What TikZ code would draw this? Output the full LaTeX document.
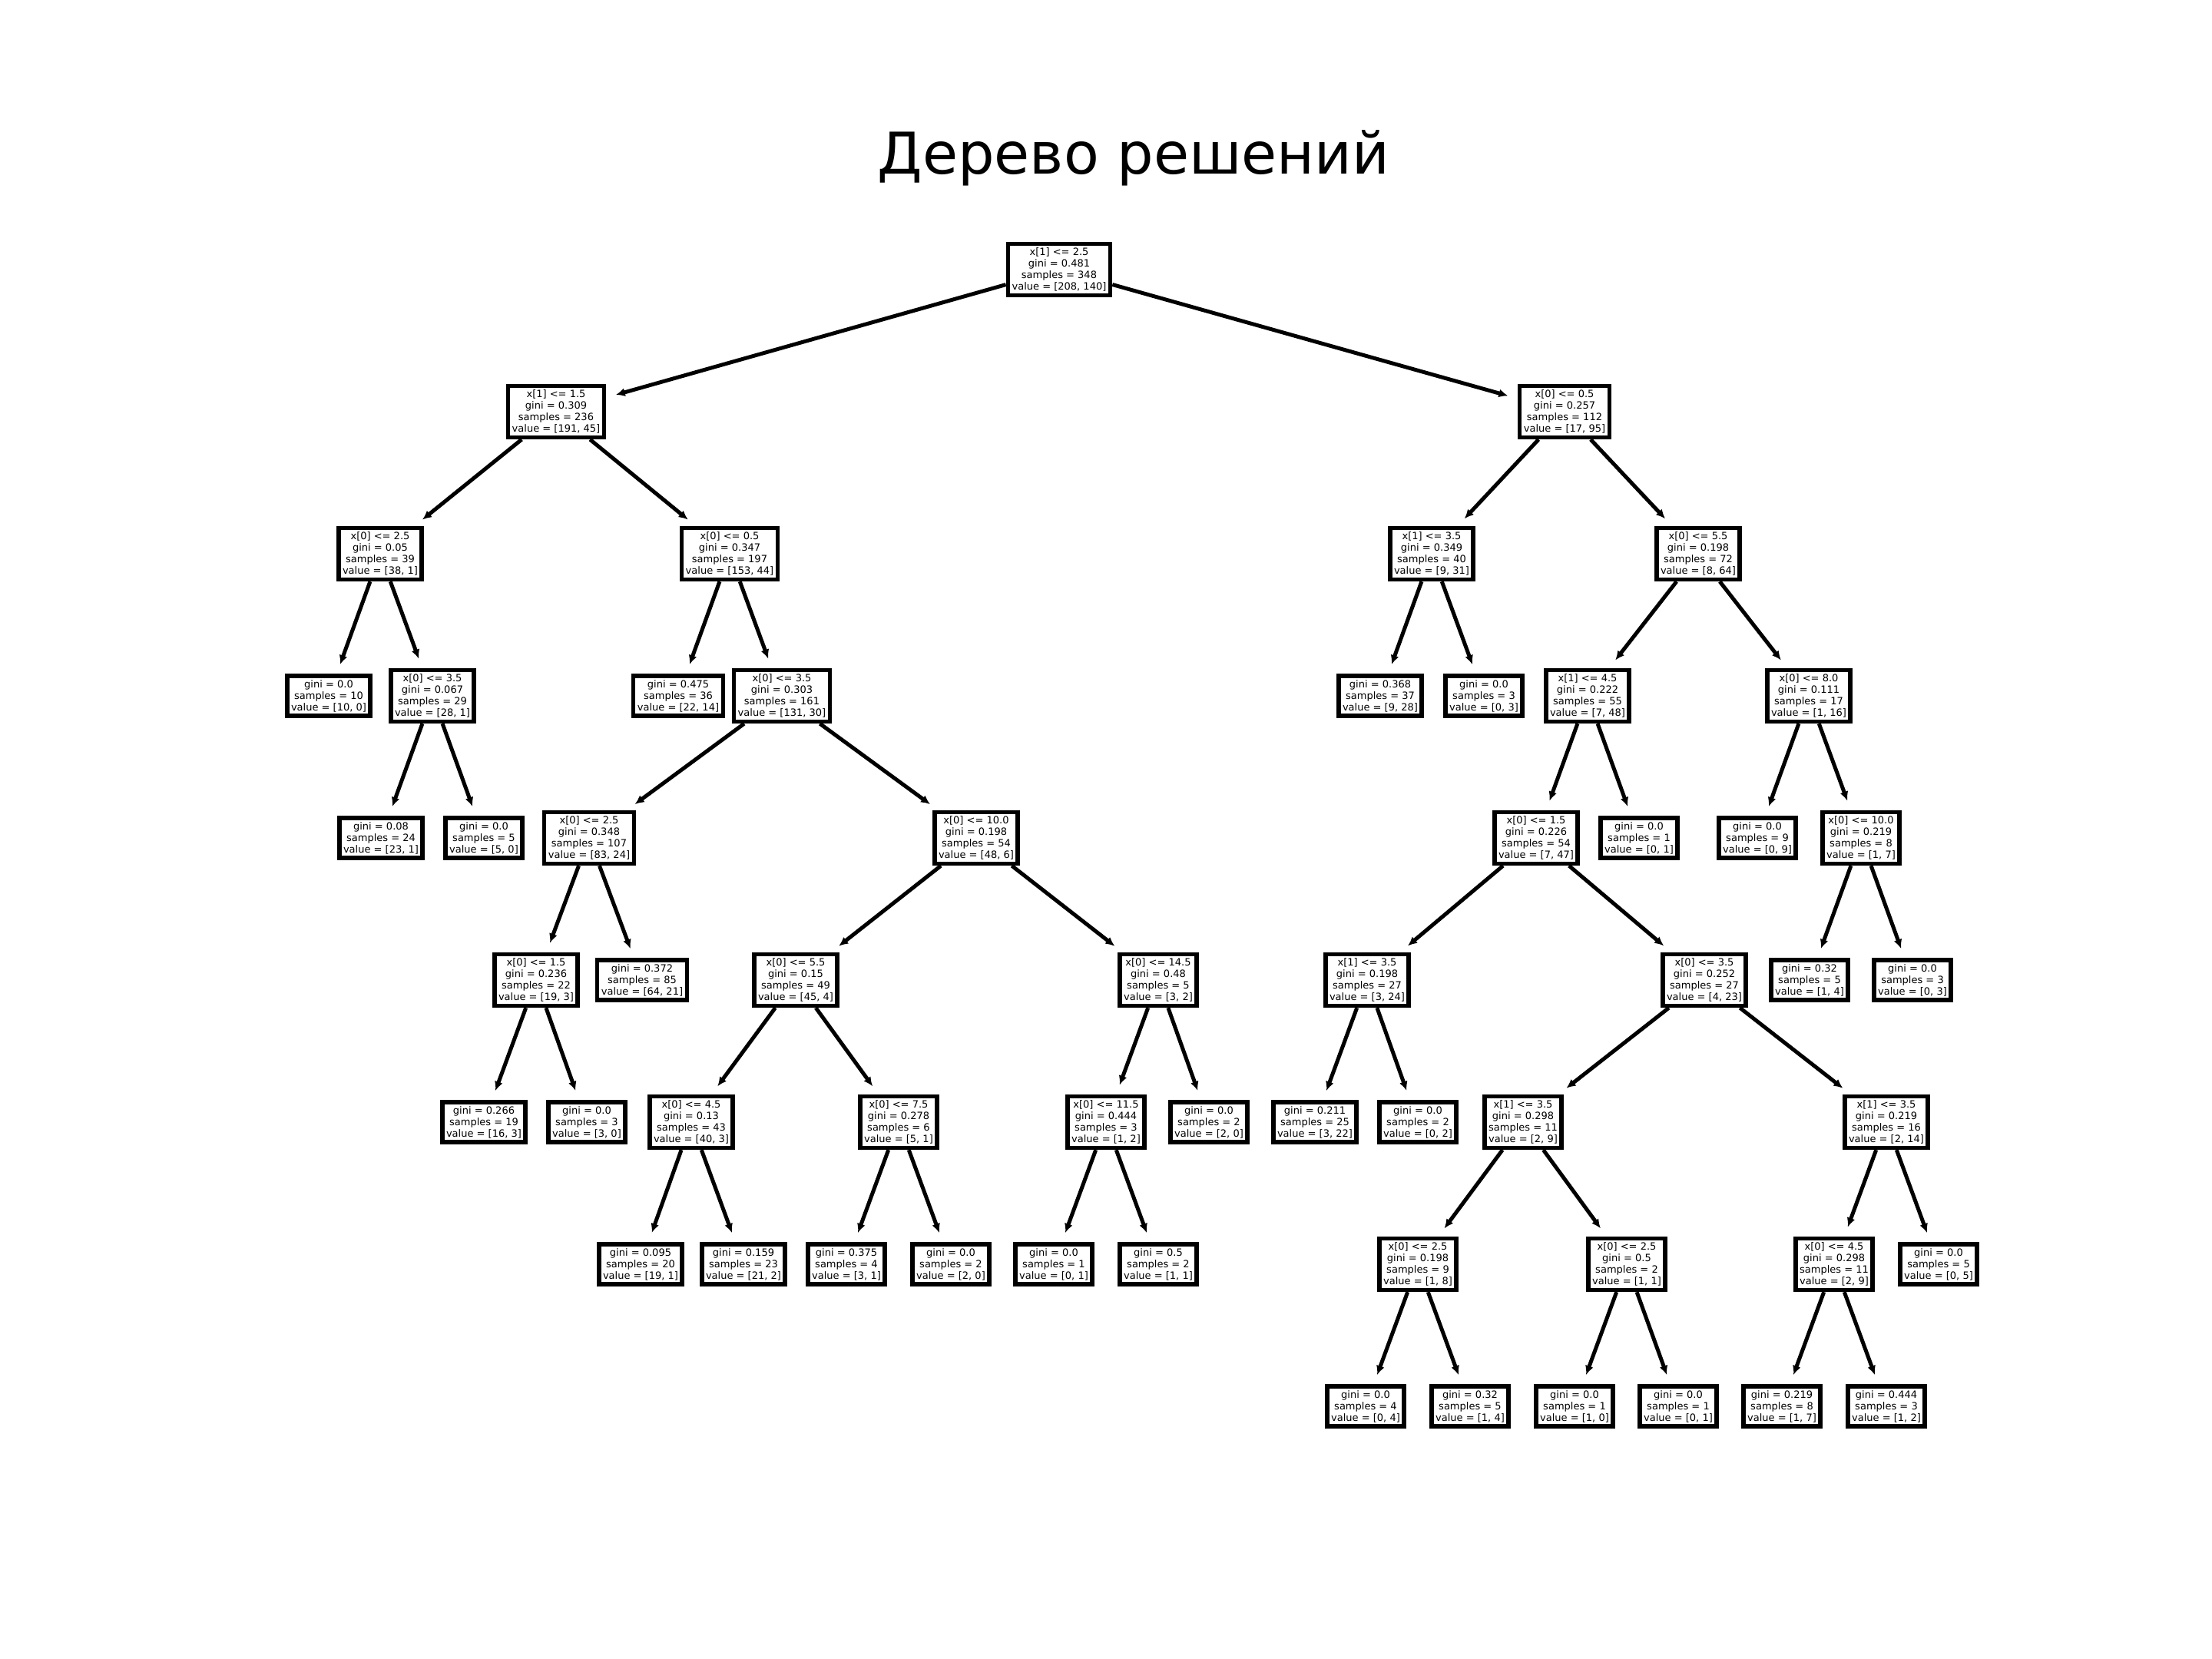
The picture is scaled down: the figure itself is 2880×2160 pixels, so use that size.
\documentclass[tikz,border=0pt]{standalone}
\usepackage{fontspec}
\setmainfont{DejaVu Sans}
\usetikzlibrary{arrows.meta}
\tikzset{
  tnode/.style={draw=black, fill=white, line width=0.055cm, inner sep=0.052cm, align=center,
    font=\fontsize{3.7}{4.25}\selectfont},
  tedge/.style={line width=0.05cm, -{Latex[length=0.12cm,width=0.11cm]}, shorten >=0.13cm},
  ttitle/.style={font=\fontsize{21.3}{26}\selectfont, anchor=base, inner sep=0pt}
}
\begin{document}
\begin{tikzpicture}[x=0.01cm, y=-0.01cm]
\fill[white] (0,0) rectangle (2880,2160);
\useasboundingbox (0,0) rectangle (2880,2160);
\node[ttitle] (title) at (1476,226) {Дерево решений};
% row 1
\node[tnode] (r) at (1379,351) {x[1] <= 2.5\\gini = 0.481\\samples = 348\\value = [208, 140]};
% row 2
\node[tnode] (a) at (724,536) {x[1] <= 1.5\\gini = 0.309\\samples = 236\\value = [191, 45]};
\node[tnode] (b) at (2037,536) {x[0] <= 0.5\\gini = 0.257\\samples = 112\\value = [17, 95]};
% row 3
\node[tnode] (aa) at (495,721) {x[0] <= 2.5\\gini = 0.05\\samples = 39\\value = [38, 1]};
\node[tnode] (ab) at (950,721) {x[0] <= 0.5\\gini = 0.347\\samples = 197\\value = [153, 44]};
\node[tnode] (ba) at (1864,721) {x[1] <= 3.5\\gini = 0.349\\samples = 40\\value = [9, 31]};
\node[tnode] (bb) at (2211,721) {x[0] <= 5.5\\gini = 0.198\\samples = 72\\value = [8, 64]};
% row 4
\node[tnode] (aaa) at (428,906) {gini = 0.0\\samples = 10\\value = [10, 0]};
\node[tnode] (aab) at (563,906) {x[0] <= 3.5\\gini = 0.067\\samples = 29\\value = [28, 1]};
\node[tnode] (aba) at (883,906) {gini = 0.475\\samples = 36\\value = [22, 14]};
\node[tnode] (abb) at (1018,906) {x[0] <= 3.5\\gini = 0.303\\samples = 161\\value = [131, 30]};
\node[tnode] (baa) at (1797,906) {gini = 0.368\\samples = 37\\value = [9, 28]};
\node[tnode] (bab) at (1932,906) {gini = 0.0\\samples = 3\\value = [0, 3]};
\node[tnode] (bba) at (2067,906) {x[1] <= 4.5\\gini = 0.222\\samples = 55\\value = [7, 48]};
\node[tnode] (bbb) at (2355,906) {x[0] <= 8.0\\gini = 0.111\\samples = 17\\value = [1, 16]};
% row 5
\node[tnode] (aaba) at (496,1091) {gini = 0.08\\samples = 24\\value = [23, 1]};
\node[tnode] (aabb) at (630,1091) {gini = 0.0\\samples = 5\\value = [5, 0]};
\node[tnode] (abba) at (767,1091) {x[0] <= 2.5\\gini = 0.348\\samples = 107\\value = [83, 24]};
\node[tnode] (abbb) at (1271,1091) {x[0] <= 10.0\\gini = 0.198\\samples = 54\\value = [48, 6]};
\node[tnode] (bbaa) at (2000,1091) {x[0] <= 1.5\\gini = 0.226\\samples = 54\\value = [7, 47]};
\node[tnode] (bbab) at (2134,1091) {gini = 0.0\\samples = 1\\value = [0, 1]};
\node[tnode] (bbba) at (2288,1091) {gini = 0.0\\samples = 9\\value = [0, 9]};
\node[tnode] (bbbb) at (2423,1091) {x[0] <= 10.0\\gini = 0.219\\samples = 8\\value = [1, 7]};
% row 6
\node[tnode] (abbaa) at (698,1276) {x[0] <= 1.5\\gini = 0.236\\samples = 22\\value = [19, 3]};
\node[tnode] (abbab) at (836,1276) {gini = 0.372\\samples = 85\\value = [64, 21]};
\node[tnode] (abbba) at (1036,1276) {x[0] <= 5.5\\gini = 0.15\\samples = 49\\value = [45, 4]};
\node[tnode] (abbbb) at (1508,1276) {x[0] <= 14.5\\gini = 0.48\\samples = 5\\value = [3, 2]};
\node[tnode] (bbaaa) at (1780,1276) {x[1] <= 3.5\\gini = 0.198\\samples = 27\\value = [3, 24]};
\node[tnode] (bbaab) at (2219,1276) {x[0] <= 3.5\\gini = 0.252\\samples = 27\\value = [4, 23]};
\node[tnode] (bbbba) at (2356,1276) {gini = 0.32\\samples = 5\\value = [1, 4]};
\node[tnode] (bbbbb) at (2490,1276) {gini = 0.0\\samples = 3\\value = [0, 3]};
% row 7
\node[tnode] (abbaaa) at (630,1461) {gini = 0.266\\samples = 19\\value = [16, 3]};
\node[tnode] (abbaab) at (764,1461) {gini = 0.0\\samples = 3\\value = [3, 0]};
\node[tnode] (abbbaa) at (900,1461) {x[0] <= 4.5\\gini = 0.13\\samples = 43\\value = [40, 3]};
\node[tnode] (abbbab) at (1170,1461) {x[0] <= 7.5\\gini = 0.278\\samples = 6\\value = [5, 1]};
\node[tnode] (abbbba) at (1440,1461) {x[0] <= 11.5\\gini = 0.444\\samples = 3\\value = [1, 2]};
\node[tnode] (abbbbb) at (1574,1461) {gini = 0.0\\samples = 2\\value = [2, 0]};
\node[tnode] (bbaaaa) at (1712,1461) {gini = 0.211\\samples = 25\\value = [3, 22]};
\node[tnode] (bbaaab) at (1846,1461) {gini = 0.0\\samples = 2\\value = [0, 2]};
\node[tnode] (bbaaba) at (1983,1461) {x[1] <= 3.5\\gini = 0.298\\samples = 11\\value = [2, 9]};
\node[tnode] (bbaabb) at (2456,1461) {x[1] <= 3.5\\gini = 0.219\\samples = 16\\value = [2, 14]};
% row 8
\node[tnode] (p1) at (834,1646) {gini = 0.095\\samples = 20\\value = [19, 1]};
\node[tnode] (p2) at (968,1646) {gini = 0.159\\samples = 23\\value = [21, 2]};
\node[tnode] (p3) at (1102,1646) {gini = 0.375\\samples = 4\\value = [3, 1]};
\node[tnode] (p4) at (1238,1646) {gini = 0.0\\samples = 2\\value = [2, 0]};
\node[tnode] (p5) at (1372,1646) {gini = 0.0\\samples = 1\\value = [0, 1]};
\node[tnode] (p6) at (1508,1646) {gini = 0.5\\samples = 2\\value = [1, 1]};
\node[tnode] (q1) at (1846,1646) {x[0] <= 2.5\\gini = 0.198\\samples = 9\\value = [1, 8]};
\node[tnode] (q2) at (2118,1646) {x[0] <= 2.5\\gini = 0.5\\samples = 2\\value = [1, 1]};
\node[tnode] (q3) at (2388,1646) {x[0] <= 4.5\\gini = 0.298\\samples = 11\\value = [2, 9]};
\node[tnode] (q4) at (2524,1646) {gini = 0.0\\samples = 5\\value = [0, 5]};
% row 9
\node[tnode] (s1) at (1778,1831) {gini = 0.0\\samples = 4\\value = [0, 4]};
\node[tnode] (s2) at (1914,1831) {gini = 0.32\\samples = 5\\value = [1, 4]};
\node[tnode] (s3) at (2050,1831) {gini = 0.0\\samples = 1\\value = [1, 0]};
\node[tnode] (s4) at (2185,1831) {gini = 0.0\\samples = 1\\value = [0, 1]};
\node[tnode] (s5) at (2320,1831) {gini = 0.219\\samples = 8\\value = [1, 7]};
\node[tnode] (s6) at (2456,1831) {gini = 0.444\\samples = 3\\value = [1, 2]};
% edges
\foreach \p/\c in {r/a, r/b, a/aa, a/ab, b/ba, b/bb,
  aa/aaa, aa/aab, ab/aba, ab/abb, ba/baa, ba/bab, bb/bba, bb/bbb,
  aab/aaba, aab/aabb, abb/abba, abb/abbb, bba/bbaa, bba/bbab, bbb/bbba, bbb/bbbb,
  abba/abbaa, abba/abbab, abbb/abbba, abbb/abbbb, bbaa/bbaaa, bbaa/bbaab, bbbb/bbbba, bbbb/bbbbb,
  abbaa/abbaaa, abbaa/abbaab, abbba/abbbaa, abbba/abbbab, abbbb/abbbba, abbbb/abbbbb,
  bbaaa/bbaaaa, bbaaa/bbaaab, bbaab/bbaaba, bbaab/bbaabb,
  abbbaa/p1, abbbaa/p2, abbbab/p3, abbbab/p4, abbbba/p5, abbbba/p6,
  bbaaba/q1, bbaaba/q2, bbaabb/q3, bbaabb/q4,
  q1/s1, q1/s2, q2/s3, q2/s4, q3/s5, q3/s6}
  \draw[tedge] (\p) -- (\c);
\end{tikzpicture}
\end{document}
